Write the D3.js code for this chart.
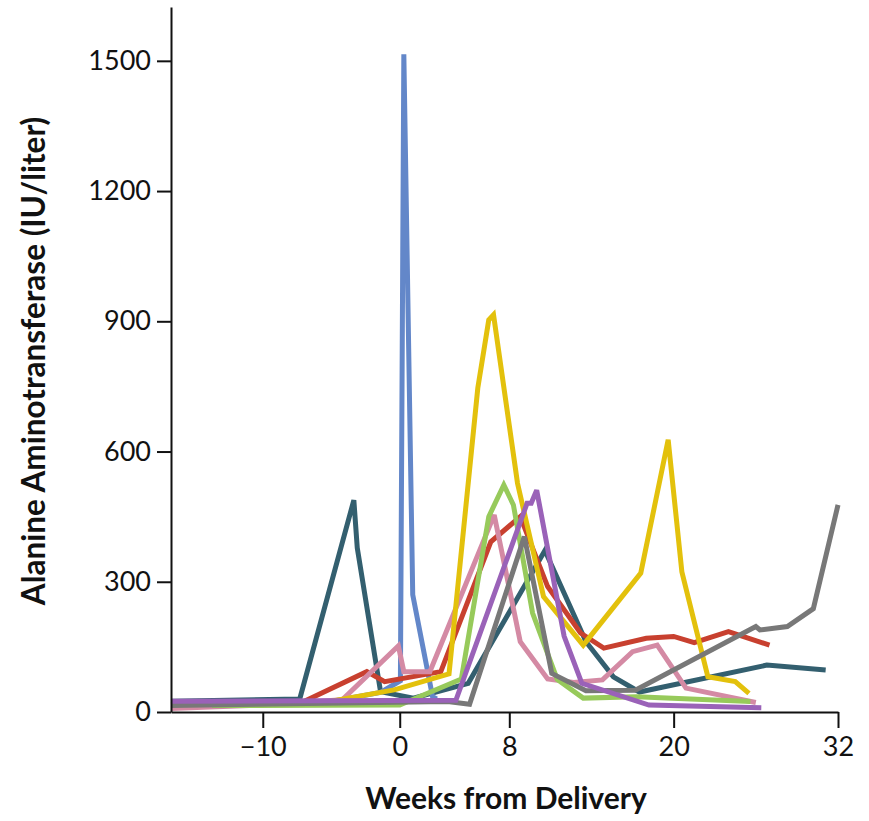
<!DOCTYPE html>
<html>
<head>
<meta charset="utf-8">
<script src="https://cdn.jsdelivr.net/npm/d3@7"></script>
<style>
  body { margin: 0; background: #fff; }
  svg { display: block; }
  .axis text { font-family: Lato, "Open Sans", sans-serif; font-size: 27px; fill: #111; }
  .axis path, .axis line { stroke: #111; stroke-width: 2px; }
  .title { font-family: Lato, "Open Sans", sans-serif; font-weight: 700; fill: #111; }
</style>
</head>
<body>
<div id="chart"></div>
<script>
// ALT (IU/liter) against weeks from delivery, one array per patient: [week, value]
const patientTeal = [[-16.7, 25], [-7.3, 30], [-3.35, 488], [-3.1, 378], [-1.4, 47], [1, 32], [5, 66],
  [10.6, 372], [13.6, 162], [15.6, 81], [17.5, 46], [26.8, 108], [31.1, 97]];
const patientBlue = [[-16.7, 20], [-5, 24], [-1.4, 45], [0.05, 72], [0.3, 1515], [0.95, 270], [2.4, 35], [2.7, 30]];
const patientRed = [[-16.7, 18], [-7, 24], [-2.4, 93], [-1.1, 70], [3, 93], [6.65, 392], [8.8, 450],
  [10.8, 289], [13.2, 182], [14.9, 147], [18, 170], [20, 174], [21.5, 160], [24, 185], [27, 154]];
const patientPink = [[-16.7, 8], [-10, 16], [-4.2, 28], [-0.1, 152], [0.3, 93], [2.2, 93], [6.9, 454],
  [8.8, 162], [10.8, 76], [12.7, 68], [14.8, 74], [17, 139], [18.8, 154], [20.9, 55], [26, 22]];
const patientYellow = [[-16.7, 18], [-5, 25], [-0.4, 51], [3.6, 88], [5.7, 746], [6.5, 903], [6.85, 915],
  [8.6, 527], [10.5, 266], [13.4, 154], [17.6, 320], [19.6, 627], [20.6, 323], [22.5, 81], [24.5, 70], [25.5, 43]];
const patientGreen = [[-13.7, 15], [0, 16], [4.5, 76], [6.5, 450], [7.6, 523], [8.3, 477], [9.7, 228],
  [11.5, 75], [13.4, 32], [17.3, 35], [25.6, 24]];
const patientGray = [[-16.7, 15], [3.5, 24], [5.1, 18], [9.1, 404], [11.1, 89], [13.6, 49], [17.2, 50],
  [26, 197], [26.3, 189], [28.3, 197], [30.2, 238], [32, 477]];
const patientPurple = [[-16.7, 25], [4.1, 27], [9.3, 481], [9.6, 481], [10, 511], [12, 175], [13.3, 66],
  [18.2, 16], [26.4, 10]];

const patients = [
  { data: patientTeal, color: '#335f6f' },
  { data: patientBlue, color: '#6387c9' },
  { data: patientRed, color: '#c8402f' },
  { data: patientPink, color: '#d48aa4' },
  { data: patientYellow, color: '#e3c10c' },
  { data: patientGreen, color: '#97ca5b' },
  { data: patientGray, color: '#787878' },
  { data: patientPurple, color: '#9a62b8' }
];

const xTicks = [-10, 0, 8, 20, 32];
const yTicks = [0, 300, 600, 900, 1200, 1500];

const width = 869;
const height = 821;

const x = d3.scaleLinear().domain([-16.7, 32]).range([171, 838]);
const y = d3.scaleLinear().domain([0, 1624]).range([712, 7]);

const svg = d3.select('#chart')
  .append('svg')
  .attr('width', width)
  .attr('height', height);

const line = d3.line()
  .x(d => x(d[0]))
  .y(d => y(d[1]));

svg.append('g')
  .selectAll('path')
  .data(patients)
  .enter()
  .append('path')
  .attr('d', d => line(d.data))
  .attr('fill', 'none')
  .attr('stroke', d => d.color)
  .attr('stroke-width', 5)
  .attr('stroke-linejoin', 'miter')
  .attr('stroke-miterlimit', 3);

svg.append('g')
  .attr('class', 'axis')
  .attr('transform', `translate(0,${y(0)})`)
  .call(d3.axisBottom(x).tickValues(xTicks).tickSize(16).tickSizeOuter(0).tickPadding(9));

svg.append('g')
  .attr('class', 'axis')
  .attr('transform', `translate(${x.range()[0]},0)`)
  .call(d3.axisLeft(y).tickValues(yTicks).tickFormat(d3.format('d'))
    .tickSize(14).tickSizeOuter(0).tickPadding(6));

svg.append('text')
  .attr('class', 'title')
  .attr('x', 506)
  .attr('y', 809)
  .attr('text-anchor', 'middle')
  .style('font-size', '30px')
  .text('Weeks from Delivery');

svg.append('text')
  .attr('class', 'title')
  .attr('transform', 'translate(45,361) rotate(-90)')
  .attr('text-anchor', 'middle')
  .style('font-size', '31.5px')
  .text('Alanine Aminotransferase (IU/liter)');
</script>
</body>
</html>
